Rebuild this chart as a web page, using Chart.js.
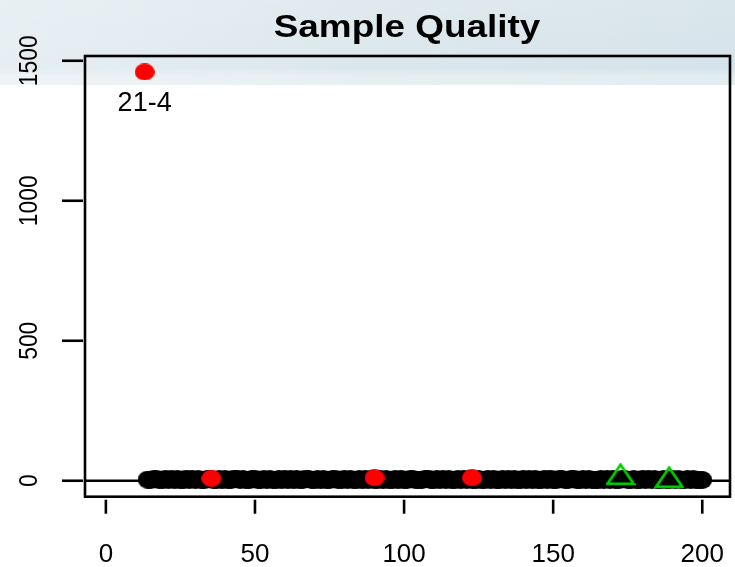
<!DOCTYPE html>
<html>
<head>
<meta charset="utf-8">
<title>Sample Quality</title>
<script src="https://cdn.jsdelivr.net/npm/chart.js@4/dist/chart.umd.min.js"></script>
<style>
  html, body { margin: 0; padding: 0; background: #fff; overflow: hidden; }
  #wrap { width: 735px; height: 567px; position: relative; }
</style>
</head>
<body>
<div id="wrap"><canvas id="chart" width="735" height="567"></canvas></div>
<script>
// ---- data ----
const TITLE = 'Sample Quality';
const X_TICKS = [0, 50, 100, 150, 200];
const Y_TICKS = [0, 500, 1000, 1500];
const X_RANGE = [-7, 209.3];
const Y_RANGE = [-57, 1517];

// black samples (index, value)
const passX = [
  14, 15, 16, 17, 18, 19, 20, 21, 22, 23, 24, 25, 26, 27, 28, 29, 30, 31, 32, 33,
  34, 35, 36, 37, 38, 39, 40, 41, 42, 43, 44, 45, 46, 47, 48, 49, 50, 51, 52, 53,
  54, 55, 56, 57, 58, 59, 60, 61, 62, 63, 64, 65, 66, 67, 68, 69, 70, 71, 72, 73,
  74, 75, 76, 77, 78, 79, 80, 81, 82, 83, 84, 85, 86, 87, 88, 89, 90, 91, 92, 93,
  94, 95, 96, 97, 98, 99, 100, 101, 102, 103, 104, 105, 106, 107, 108, 109, 110, 111, 112, 113,
  114, 115, 116, 117, 118, 119, 120, 121, 122, 123, 124, 125, 126, 127, 128, 129, 130, 131, 132, 133,
  134, 135, 136, 137, 138, 139, 140, 141, 142, 143, 144, 145, 146, 147, 148, 149, 150, 151, 152, 153,
  154, 155, 156, 157, 158, 159, 160, 161, 162, 163, 164, 165, 166, 167, 168, 169, 170, 171, 172, 173,
  174, 175, 176, 177, 178, 179, 180, 181, 182, 183, 184, 185, 186, 187, 188, 189, 190, 191, 192, 193,
  194, 195, 196, 197, 198, 199, 200
];
const passY = [
  4, 3, 5, 6, 2, 4, 7, 3, 5, 4, 6, 2, 3, 8, 4, 5, 3, 6, 4, 2,
  5, 7, 3, 4, 6, 2, 5, 3, 4, 8, 5, 3, 6, 4, 2, 5, 7, 3, 4, 5,
  3, 6, 4, 2, 5, 3, 7, 4, 5, 2, 6, 3, 4, 8, 5, 3, 4, 6, 2, 5,
  4, 3, 6, 5, 2, 4, 7, 3, 5, 4, 3, 6, 2, 5, 4, 7, 3, 4, 5, 2,
  6, 3, 4, 5, 2, 7, 4, 3, 5, 6, 2, 4, 3, 5, 8, 4, 2, 5, 3, 6,
  4, 5, 3, 2, 6, 4, 7, 3, 5, 4, 2, 6, 3, 4, 5, 3, 7, 2, 4, 5,
  3, 6, 4, 5, 2, 3, 7, 4, 5, 3, 6, 2, 4, 5, 3, 8, 4, 2, 5, 6,
  4, 3, 5, 7, 2, 4, 6, 3, 5, 4, 3, 2, 6, 4, 5, 3, 7, 4, 2, 5,
  5, 3, 4, 6, 2, 4, 7, 3, 5, 4, 6, 3, 2, 5, 4, 3, 6, 4, 5, 2,
  4, 6, 3, 5, 2, 4, 3
];

// red samples
const failX = [13, 35.4, 90.1, 122.8];
const failY = [1460, 8.5, 10.7, 10.7];
const failLabels = ['21-4', '', '', ''];

// green open triangles
const warnX = [172.6, 188.9];
const warnY = [12, 1.5];

// ---- marker images (the reference has slightly wide symbols) ----
function makeEllipse(w, h, color) {
    const c = document.createElement('canvas');
    c.width = w; c.height = h;
    const g = c.getContext('2d');
    g.fillStyle = color;
    g.beginPath();
    g.ellipse(w / 2, h / 2, w / 2, h / 2, 0, 0, Math.PI * 2);
    g.fill();
    return c;
}

function makeTriangle(w, h, color, lw) {
    // centroid of the triangle sits on the canvas centre
    const H = Math.round(h * 4 / 3) + 4;
    const c = document.createElement('canvas');
    c.width = w + 4; c.height = H;
    const g = c.getContext('2d');
    const cy = H / 2;
    const top = cy - h * 2 / 3;
    const base = cy + h / 3;
    g.strokeStyle = color;
    g.lineWidth = lw;
    g.lineJoin = 'miter';
    g.beginPath();
    g.moveTo(c.width / 2, top);
    g.lineTo(c.width / 2 + w / 2, base);
    g.lineTo(c.width / 2 - w / 2, base);
    g.closePath();
    g.stroke();
    return c;
}

const blackDot = makeEllipse(20, 18, '#000000');
const redDot = makeEllipse(20, 17, '#ff0000');
const greenTri = makeTriangle(26, 19, '#00cd00', 2.8);

const toPoints = (xs, ys) => xs.map((x, i) => ({ x: x, y: ys[i] }));

const FONT = "'Liberation Sans', Arial, Helvetica, sans-serif";

// background band, axes, title and point label drawn around the library's scales
const rStyle = {
    id: 'rStyle',
    beforeDraw(chart) {
        const ctx = chart.ctx;
        ctx.save();
        ctx.fillStyle = '#ffffff';
        ctx.fillRect(0, 0, chart.width, chart.height);
        const g = ctx.createLinearGradient(0, 0, chart.width, 0);
        g.addColorStop(0, '#e6eef2');
        g.addColorStop(0.5, '#dce7ec');
        g.addColorStop(1, '#d5e3ea');
        ctx.fillStyle = g;
        ctx.fillRect(0, 0, chart.width, 85);
        const v = ctx.createLinearGradient(0, 0, 0, 85);
        v.addColorStop(0, 'rgba(255,255,255,0.12)');
        v.addColorStop(0.8, 'rgba(255,255,255,0)');
        v.addColorStop(0.9, 'rgba(255,255,255,0.3)');
        v.addColorStop(1, 'rgba(255,255,255,0.35)');
        ctx.fillStyle = v;
        ctx.fillRect(0, 0, chart.width, 85);
        ctx.restore();
    },
    beforeDatasetsDraw(chart) {
        const ctx = chart.ctx;
        const a = chart.chartArea;
        const y0 = chart.scales.y.getPixelForValue(0);
        ctx.save();
        ctx.strokeStyle = '#000';
        ctx.lineWidth = 2.4;
        ctx.beginPath();
        ctx.moveTo(a.left, y0);
        ctx.lineTo(a.right, y0);
        ctx.stroke();
        ctx.restore();
    },
    afterDatasetsDraw(chart) {
        const ctx = chart.ctx;
        const a = chart.chartArea;
        const xs = chart.scales.x, ys = chart.scales.y;
        ctx.save();
        ctx.strokeStyle = '#000';
        ctx.fillStyle = '#000';
        ctx.lineWidth = 2.6;
        ctx.strokeRect(a.left, a.top, a.right - a.left, a.bottom - a.top);

        // x axis ticks + labels
        ctx.font = '26px ' + FONT;
        ctx.textAlign = 'center';
        ctx.textBaseline = 'alphabetic';
        X_TICKS.forEach(t => {
            const px = xs.getPixelForValue(t);
            ctx.beginPath();
            ctx.moveTo(px, a.bottom + 3);
            ctx.lineTo(px, a.bottom + 17);
            ctx.stroke();
            ctx.fillText(String(t), px, 562);
        });

        // y axis ticks + rotated labels
        Y_TICKS.forEach(t => {
            const py = ys.getPixelForValue(t);
            ctx.beginPath();
            ctx.moveTo(a.left - 23, py);
            ctx.lineTo(a.left - 2, py);
            ctx.stroke();
            ctx.save();
            ctx.translate(37, py);
            ctx.rotate(-Math.PI / 2);
            ctx.scale(0.88, 1);
            ctx.fillText(String(t), 0, 0);
            ctx.restore();
        });

        // labels next to flagged samples
        ctx.font = '27px ' + FONT;
        failLabels.forEach((lab, i) => {
            if (!lab) return;
            const px = xs.getPixelForValue(failX[i]);
            const py = ys.getPixelForValue(failY[i]);
            ctx.fillText(lab, px, py + 39);
        });

        // title
        ctx.save();
        ctx.font = 'bold 31px ' + FONT;
        ctx.translate(407, 37);
        ctx.scale(1.19, 1);
        ctx.fillText(TITLE, 0, 0);
        ctx.restore();
        ctx.restore();
    }
};

const ctx = document.getElementById('chart').getContext('2d');
new Chart(ctx, {
    type: 'scatter',
    data: {
        datasets: [
            {
                label: 'pass',
                data: toPoints(passX, passY),
                pointStyle: blackDot,
                order: 3
            },
            {
                label: 'fail',
                data: toPoints(failX, failY),
                pointStyle: redDot,
                order: 2
            },
            {
                label: 'warn',
                data: toPoints(warnX, warnY),
                pointStyle: greenTri,
                order: 1
            }
        ]
    },
    options: {
        responsive: false,
        animation: false,
        events: [],
        layout: { padding: { left: 85, right: 1.7, top: 56, bottom: 70.3 } },
        plugins: { legend: { display: false }, tooltip: { enabled: false } },
        scales: {
            x: { type: 'linear', min: X_RANGE[0], max: X_RANGE[1], display: false },
            y: { type: 'linear', min: Y_RANGE[0], max: Y_RANGE[1], display: false }
        }
    },
    plugins: [rStyle]
});
</script>
</body>
</html>
